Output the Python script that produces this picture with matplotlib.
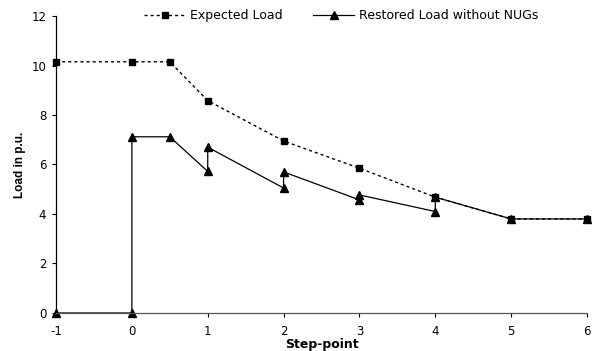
import matplotlib
matplotlib.use("Agg")
import matplotlib.pyplot as plt

plt.rcParams['font.family'] = ['DejaVu Sans']
plt.rcParams['axes.unicode_minus'] = False

exp_x = [-1, 0, 0.5, 1, 2, 3, 4, 5, 6]
exp_y = [10.15, 10.15, 10.15, 8.58, 6.95, 5.85, 4.68, 3.8, 3.8]

res_x = [-1, 0, 0, 0.5, 1, 1, 2, 2, 3, 3, 4, 4, 5, 6]
res_y = [0, 0, 7.12, 7.12, 5.72, 6.7, 5.05, 5.7, 4.57, 4.77, 4.1, 4.68, 3.8, 3.8]

xticks = [-1, 0, 1, 2, 3, 4, 5, 6]
yticks = [0, 2, 4, 6, 8, 10, 12]

fig = plt.figure(figsize=(6.03, 3.51), dpi=100)
ax = fig.add_axes([0.0929, 0.1083, 0.8806, 0.8461])

ax.plot(res_x, res_y, color='black', lw=0.9, marker='^', ms=5.2,
        label='Restored Load without NUGs', zorder=2, clip_on=False)
ax.plot(exp_x, exp_y, color='black', lw=1.0, ls=(0, (2.2, 2.2)), marker='s', ms=4.5,
        label='Expected Load', zorder=3, clip_on=False)

ax.set_xlim(-1, 6)
ax.set_ylim(0, 12)
ax.set_xticks(xticks)
ax.set_yticks(yticks)
ax.tick_params(labelsize=8.5, length=3, width=0.8, colors='black')
ax.tick_params(axis='x', pad=6)
ax.tick_params(axis='y', pad=4)
for s in ['top', 'right']:
    ax.spines[s].set_visible(False)
for s in ['left', 'bottom']:
    ax.spines[s].set_linewidth(0.9)
ax.spines['bottom'].set_color('#555555')

ax.set_xlabel('Step-point', fontsize=9, fontweight='bold', labelpad=0)
ax.set_ylabel('Load in p.u.', fontsize=8.5, fontweight='bold', labelpad=4,
              family=['Liberation Sans', 'DejaVu Sans'])

h, l = ax.get_legend_handles_labels()
fig.legend([h[1], h[0]], [l[1], l[0]], ncol=2, frameon=False, loc='center',
           bbox_to_anchor=(0.566, 0.955), fontsize=9, handlelength=3.3,
           handletextpad=0.4, columnspacing=2.4, borderaxespad=0)

fig.savefig('out.png', dpi=100)
